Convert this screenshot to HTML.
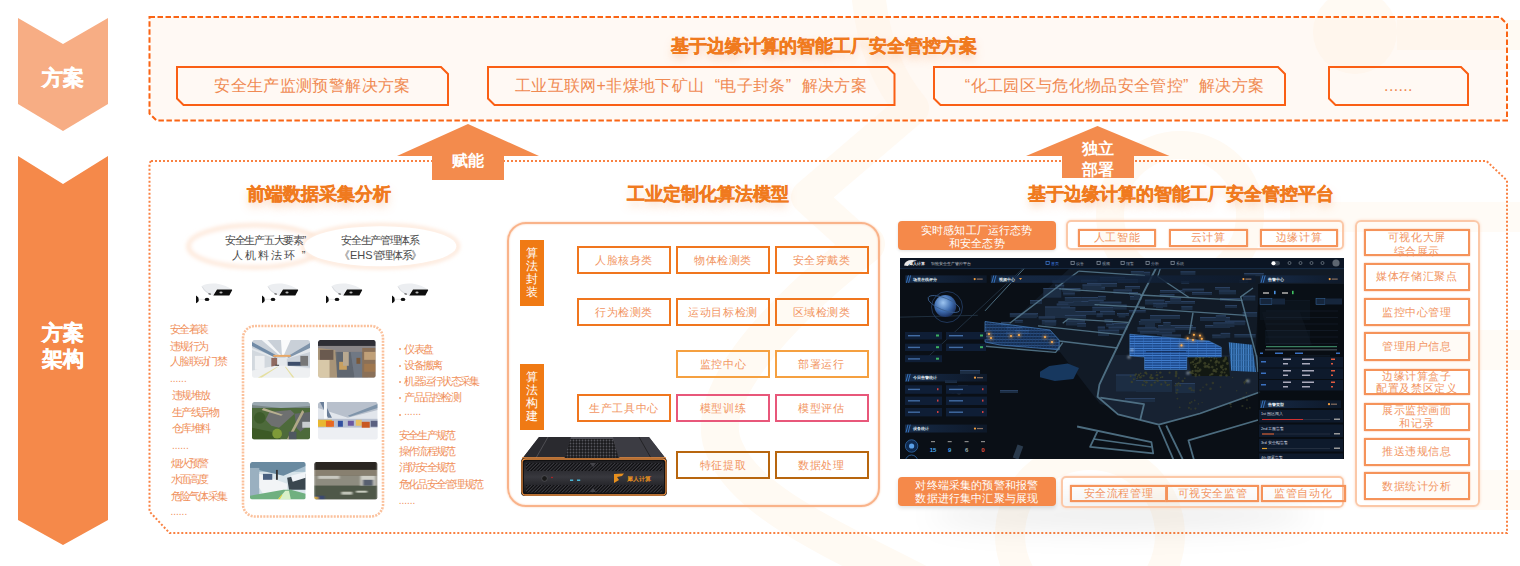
<!DOCTYPE html>
<html><head><meta charset="utf-8">
<style>
*{margin:0;padding:0;box-sizing:border-box}
html,body{width:1520px;height:566px;overflow:hidden;background:#fff;font-family:"Liberation Sans",sans-serif}
.a{position:absolute}
.c{display:flex;align-items:center;justify-content:center;text-align:center}
.t1{color:#F07A1E;font-weight:bold;font-size:18px;-webkit-text-stroke:0.4px #F07A1E;white-space:nowrap;text-shadow:0 5px 8px rgba(245,140,70,0.35)}
.sb{color:#F08A52;font-size:16px;white-space:nowrap;letter-spacing:0.35px}
.ob{border:2px solid #F0761E;color:#F29562;font-size:10.6px;letter-spacing:0.55px;padding-top:2px;white-space:nowrap}
.lst{color:#F0905A;font-size:11px;line-height:16.5px;letter-spacing:-1.7px;white-space:nowrap}
.dots{letter-spacing:0px;font-size:10px;margin-top:2px}
.vl{background:#F07A14;color:#fff;font-size:12px;line-height:13px;text-align:center;padding-top:7px}
.el{color:#4a4a4a;font-size:11px;line-height:14px;text-align:center;white-space:nowrap}
.wt{color:#fff;font-size:10.6px;line-height:13px;white-space:nowrap;letter-spacing:0.15px}
.gb{border:2px solid #F5935A;color:#F29562;font-size:10.6px;letter-spacing:0.6px;padding-top:1px;white-space:nowrap;box-shadow:0 0 1.5px #F8B088}
.rb{border:2px solid #F5935A;color:#F29562;font-size:10.6px;letter-spacing:0.6px;padding-top:1px;white-space:nowrap;box-shadow:0 0 1.5px #F8B088}
.rc{border:2px solid #F5935A;color:#F08A52;font-size:12px;line-height:13px;background:#fff}
</style></head><body>
<!-- background watermark -->
<svg class="a" style="left:0;top:0" width="1520" height="566">
<g fill="none" stroke="#FFFAF3" stroke-linejoin="round" stroke-linecap="round">
<path d="M868,-10 C872,40 888,80 912,108 L808,197 L862,246" stroke-width="34"/>
<path d="M866,244 C770,320 700,400 725,450 C750,510 860,550 950,600" stroke-width="38"/>
<circle cx="1180" cy="215" r="70" stroke-width="28"/>
<circle cx="1090" cy="535" r="80" stroke-width="30"/>
</g>
<circle cx="1355" cy="32" r="42" fill="#FFFAF3"/>
<rect x="1397" y="20" width="123" height="30" fill="#FFFAF3"/>
<rect x="1290" y="202" width="230" height="30" fill="#FFFBF6"/>
<rect x="1400" y="330" width="120" height="40" fill="#FFFBF6"/>
<rect x="1400" y="470" width="120" height="40" fill="#FFFBF6"/>
</svg>
<!-- left chevrons -->
<svg class="a" style="left:0;top:0" width="130" height="566">
<polygon points="18,18 63,44 108,18 108,104 63,131 18,104" fill="#F7AD84"/>
<polygon points="18,156 63,184 108,156 108,520 63,545 18,520" fill="#F5894A"/>
</svg>
<div class="a c" style="left:18px;top:65px;width:90px;height:26px;color:#fff;font-weight:bold;font-size:21px;-webkit-text-stroke:0.5px #fff">方案</div>
<div class="a c" style="left:18px;top:320px;width:90px;height:52px;color:#fff;font-weight:bold;font-size:21px;line-height:25.7px;-webkit-text-stroke:0.5px #fff">方案<br>架构</div>

<!-- top dashed box -->
<svg class="a" style="left:0;top:0" width="1520" height="140">
<path d="M149.5,17 L1500,17 L1507,24 L1507,120.5 L156.5,120.5 L149.5,113.5 Z" fill="#FFF1E4" fill-opacity="0.4" stroke="#FA6414" stroke-width="2" stroke-dasharray="5.5 2.5"/>
<path d="M177,67 L441,67 L448,74 L448,105 L183.5,105 L177,98.5 Z" fill="none" stroke="#FA5F14" stroke-width="2"/>
<path d="M488,67 L887.5,67 L894.5,74 L894.5,105 L494.5,105 L488,98.5 Z" fill="none" stroke="#FA5F14" stroke-width="2"/>
<path d="M934,67 L1278,67 L1285,74 L1285,105 L940.5,105 L934,98.5 Z" fill="none" stroke="#FA5F14" stroke-width="2"/>
<path d="M1329,67 L1461,67 L1468,74 L1468,105 L1335.5,105 L1329,98.5 Z" fill="none" stroke="#FA5F14" stroke-width="2"/>
</svg>
<div class="a c t1" style="left:570px;top:34px;width:507px;height:24px">基于边缘计算的智能工厂安全管控方案</div>
<div class="a c sb" style="left:177px;top:67px;width:271px;height:38px">安全生产监测预警解决方案</div>
<div class="a c sb" style="left:488px;top:67px;width:406px;height:38px">工业互联网+非煤地下矿山<span style="display:inline-block;width:16px;text-align:right">“</span>电子封条<span style="display:inline-block;width:16px;text-align:left">”</span>解决方案</div>
<div class="a c sb" style="left:934px;top:67px;width:351px;height:38px"><span style="display:inline-block;width:16px;text-align:right">“</span>化工园区与危化物品安全管控<span style="display:inline-block;width:16px;text-align:left">”</span>解决方案</div>
<div class="a c sb" style="left:1329px;top:67px;width:139px;height:38px">......</div>

<!-- second dotted box -->
<svg class="a" style="left:0;top:0" width="1520" height="566">
<path d="M151,161 L1486.5,161 L1507,180.5 L1507,533 L169.5,533 L149.5,511.5 L149.5,163 Z" fill="none" stroke="#F98142" stroke-width="2" stroke-dasharray="2 2"/>
<!-- arrows -->
<polygon points="468,124 539,156 504,156 504,180 432,180 432,156 397,156" fill="#F38B4D"/>
<polygon points="1097.5,126 1169.5,156 1134,156 1134,178 1062,178 1062,156 1026,156" fill="#F38B4D"/>
</svg>
<div class="a c" style="left:432px;top:150px;width:72px;height:22px;color:#fff;font-weight:bold;font-size:16px">赋能</div>
<div class="a c" style="left:1062px;top:138px;width:72px;height:42px;color:#fff;font-weight:bold;font-size:16px;line-height:21px">独立<br>部署</div>

<!-- section titles -->
<div class="a c t1" style="left:219px;top:182px;width:200px;height:24px">前端数据采集分析</div>
<div class="a c t1" style="left:608px;top:182px;width:200px;height:24px">工业定制化算法模型</div>
<div class="a c t1" style="left:980px;top:182px;width:401px;height:24px">基于边缘计算的智能工厂安全管控平台</div>



<!-- ===== left section ===== -->
<svg class="a" style="left:0;top:0" width="520" height="566">
<defs>
<filter id="blur2" x="-20%" y="-50%" width="140%" height="200%"><feGaussianBlur stdDeviation="2"/></filter>
</defs>
<ellipse cx="255" cy="246.2" rx="66.5" ry="21" fill="#fff" stroke="#FDE2CF" stroke-width="3.5" filter="url(#blur2)"/>
<ellipse cx="380.3" cy="246.2" rx="77.5" ry="21" fill="#fff" stroke="#FDE2CF" stroke-width="3.5" filter="url(#blur2)"/>
<ellipse cx="380.3" cy="246.2" rx="76" ry="20" fill="#fff"/>
<rect x="243" y="326" width="140" height="190.5" rx="12" fill="none" stroke="#FBC19C" stroke-width="2.6" stroke-dasharray="2 1.2"/>
</svg>
<div class="a el" style="left:200px;top:233px;width:130px;letter-spacing:-1.3px">安全生产五大要素”</div>
<div class="a el" style="left:200px;top:248px;width:130px;letter-spacing:2px;padding-left:9px">人机料法环 ”</div>
<div class="a el" style="left:315px;top:233px;width:130px;letter-spacing:-1.3px">安全生产管理体系</div>
<div class="a el" style="left:315px;top:248px;width:130px;letter-spacing:-1.3px"><span style="letter-spacing:0">《EHS</span>管理体系》</div>
<svg class="a" style="left:192px;top:278px" width="46" height="28" viewBox="0 0 46 28">
<path d="M10,8 Q13,5 24,5.5 Q34,7 40,11.5 L24,11.5 L21,17.5 Q15,16 11,11 Z" fill="#ECEEF1"/>
<path d="M10,8.5 Q12,13 17,15.5" stroke="#DADCE0" stroke-width="1" fill="none"/>
<path d="M25,11.5 L39.8,11.5 Q40.5,11.8 40,12.6 L37.3,17.6 L21.3,17.6 Z" fill="#0E0E0E"/>
<ellipse cx="29" cy="14.5" rx="1.6" ry="1" fill="#bbb"/>
<path d="M16.5,15.2 L19,15.8 L18.5,16.8 L16.5,16.2Z" fill="#333"/>
<path d="M4,17.5 Q7,19 6.8,21.5 Q7,24 4,25.2 Z" fill="#0E0E0E"/>
<line x1="6.8" y1="21.3" x2="12.5" y2="21.3" stroke="#e3e3e3" stroke-width="0.9"/>
<ellipse cx="15" cy="21.4" rx="2.3" ry="1.6" fill="#0E0E0E"/>
</svg>
<svg class="a" style="left:258px;top:278px" width="46" height="28" viewBox="0 0 46 28">
<path d="M10,8 Q13,5 24,5.5 Q34,7 40,11.5 L24,11.5 L21,17.5 Q15,16 11,11 Z" fill="#ECEEF1"/>
<path d="M10,8.5 Q12,13 17,15.5" stroke="#DADCE0" stroke-width="1" fill="none"/>
<path d="M25,11.5 L39.8,11.5 Q40.5,11.8 40,12.6 L37.3,17.6 L21.3,17.6 Z" fill="#0E0E0E"/>
<ellipse cx="29" cy="14.5" rx="1.6" ry="1" fill="#bbb"/>
<path d="M16.5,15.2 L19,15.8 L18.5,16.8 L16.5,16.2Z" fill="#333"/>
<path d="M4,17.5 Q7,19 6.8,21.5 Q7,24 4,25.2 Z" fill="#0E0E0E"/>
<line x1="6.8" y1="21.3" x2="12.5" y2="21.3" stroke="#e3e3e3" stroke-width="0.9"/>
<ellipse cx="15" cy="21.4" rx="2.3" ry="1.6" fill="#0E0E0E"/>
</svg>
<svg class="a" style="left:322px;top:278px" width="46" height="28" viewBox="0 0 46 28">
<path d="M10,8 Q13,5 24,5.5 Q34,7 40,11.5 L24,11.5 L21,17.5 Q15,16 11,11 Z" fill="#ECEEF1"/>
<path d="M10,8.5 Q12,13 17,15.5" stroke="#DADCE0" stroke-width="1" fill="none"/>
<path d="M25,11.5 L39.8,11.5 Q40.5,11.8 40,12.6 L37.3,17.6 L21.3,17.6 Z" fill="#0E0E0E"/>
<ellipse cx="29" cy="14.5" rx="1.6" ry="1" fill="#bbb"/>
<path d="M16.5,15.2 L19,15.8 L18.5,16.8 L16.5,16.2Z" fill="#333"/>
<path d="M4,17.5 Q7,19 6.8,21.5 Q7,24 4,25.2 Z" fill="#0E0E0E"/>
<line x1="6.8" y1="21.3" x2="12.5" y2="21.3" stroke="#e3e3e3" stroke-width="0.9"/>
<ellipse cx="15" cy="21.4" rx="2.3" ry="1.6" fill="#0E0E0E"/>
</svg>
<svg class="a" style="left:388px;top:278px" width="46" height="28" viewBox="0 0 46 28">
<path d="M10,8 Q13,5 24,5.5 Q34,7 40,11.5 L24,11.5 L21,17.5 Q15,16 11,11 Z" fill="#ECEEF1"/>
<path d="M10,8.5 Q12,13 17,15.5" stroke="#DADCE0" stroke-width="1" fill="none"/>
<path d="M25,11.5 L39.8,11.5 Q40.5,11.8 40,12.6 L37.3,17.6 L21.3,17.6 Z" fill="#0E0E0E"/>
<ellipse cx="29" cy="14.5" rx="1.6" ry="1" fill="#bbb"/>
<path d="M16.5,15.2 L19,15.8 L18.5,16.8 L16.5,16.2Z" fill="#333"/>
<path d="M4,17.5 Q7,19 6.8,21.5 Q7,24 4,25.2 Z" fill="#0E0E0E"/>
<line x1="6.8" y1="21.3" x2="12.5" y2="21.3" stroke="#e3e3e3" stroke-width="0.9"/>
<ellipse cx="15" cy="21.4" rx="2.3" ry="1.6" fill="#0E0E0E"/>
</svg>
<!--PHOTOS--><svg class="a" style="left:252px;top:340px;border-radius:2px" width="58" height="37.7" viewBox="0 0 60 38" preserveAspectRatio="none"><defs><clipPath id="c0"><rect width="60" height="38" rx="2"/></clipPath><filter id="pb0"><feGaussianBlur stdDeviation="0.8"/></filter></defs><g clip-path="url(#c0)"><g filter="url(#pb0)"><rect width="60" height="38" fill="#E4E8EC"/>
<polygon points="0,0 60,0 60,6 34,18 26,18 0,8" fill="#C9D0D8"/>
<polygon points="0,2 26,16 24,18 0,6" fill="#6F8AA6"/>
<polygon points="60,3 36,17 38,18 60,8" fill="#7F94AA"/>
<polygon points="10,0 28,15 30,15 16,0" fill="#F4F6F8"/>
<polygon points="30,0 31,15 33,15 40,0" fill="#FAFBFC"/>
<rect x="22" y="15" width="18" height="2" fill="#E8A868"/>
<polygon points="0,10 24,19 24,26 0,31" fill="#D2D8DE"/>
<rect x="3" y="16" width="10" height="14" fill="#EEF0F2"/>
<rect x="20" y="18" width="6" height="10" fill="#8F6A60"/>
<rect x="24" y="25" width="4" height="4" fill="#333"/>
<polygon points="60,12 36,19 36,26 60,28" fill="#CBD2DA"/>
<rect x="37" y="22" width="14" height="4" fill="#3C4E6A"/>
<rect x="50" y="16" width="8" height="10" fill="#777"/>
<polygon points="0,31 24,26 36,26 60,29 60,38 0,38" fill="#EEF0F2"/>
<polygon points="6,38 26,27 27,27 10,38" fill="#E5DFA0"/>
<polygon points="34,27 35,27 44,38 42,38" fill="#E5DFA0"/></g></g></svg>
<svg class="a" style="left:318.1px;top:340px;border-radius:2px" width="57.7" height="37.7" viewBox="0 0 60 38" preserveAspectRatio="none"><defs><clipPath id="c1"><rect width="60" height="38" rx="2"/></clipPath><filter id="pb1"><feGaussianBlur stdDeviation="0.8"/></filter></defs><g clip-path="url(#c1)"><g filter="url(#pb1)"><rect width="60" height="38" fill="#6A6C70"/>
<rect width="60" height="6" fill="#2E2E34"/>
<rect y="6" width="60" height="6" fill="#8A8688"/>
<polygon points="0,8 18,10 20,38 0,38" fill="#A89478"/>
<rect x="0" y="20" width="12" height="18" fill="#D8C8A8"/>
<rect x="2" y="10" width="14" height="10" fill="#6A5A50"/>
<polygon points="20,12 34,12 38,38 20,38" fill="#5F6670"/>
<rect x="22" y="22" width="8" height="8" fill="#C8A060"/>
<rect x="26" y="12" width="6" height="14" fill="#B8A890"/>
<polygon points="34,12 46,12 52,38 38,38" fill="#707884"/>
<rect x="46" y="8" width="14" height="30" fill="#8A7058"/>
<rect x="48" y="12" width="12" height="8" fill="#C0A078"/>
<rect x="48" y="24" width="12" height="8" fill="#A07850"/>
<rect x="40" y="18" width="4" height="6" fill="#7A5838"/></g></g></svg>
<svg class="a" style="left:252px;top:402px;border-radius:2px" width="58" height="37.6" viewBox="0 0 60 38" preserveAspectRatio="none"><defs><clipPath id="c2"><rect width="60" height="38" rx="2"/></clipPath><filter id="pb2"><feGaussianBlur stdDeviation="0.8"/></filter></defs><g clip-path="url(#c2)"><g filter="url(#pb2)"><rect width="60" height="38" fill="#4E6A3A"/>
<rect width="60" height="6" fill="#7A8888"/>
<polygon points="0,0 60,0 60,4 30,6 0,3" fill="#9AA8B0"/>
<polygon points="18,10 40,8 44,12 28,26 20,24 14,18" fill="#6E7070"/>
<polygon points="44,12 60,10 60,22 50,30 46,26" fill="#62666A"/>
<polygon points="10,8 30,14 32,13 12,6" fill="#B8B090"/>
<polygon points="52,8 36,38 39,38 54,10" fill="#B0A888"/>
<polygon points="0,26 20,30 30,38 0,38" fill="#3C5A28"/>
<circle cx="8" cy="16" r="6" fill="#3E5C2C"/>
<circle cx="26" cy="32" r="5" fill="#7E9A38"/>
<rect x="38" y="30" width="8" height="8" fill="#505860"/>
<rect x="52" y="20" width="8" height="6" fill="#C8CCD0"/></g></g></svg>
<svg class="a" style="left:318.1px;top:402px;border-radius:2px" width="59.7" height="37.6" viewBox="0 0 60 38" preserveAspectRatio="none"><defs><clipPath id="c3"><rect width="60" height="38" rx="2"/></clipPath><filter id="pb3"><feGaussianBlur stdDeviation="0.8"/></filter></defs><g clip-path="url(#c3)"><g filter="url(#pb3)"><rect width="60" height="38" fill="#E2E6EC"/>
<polygon points="0,0 60,0 60,8 30,16 0,6" fill="#B8C0CC"/>
<polygon points="2,0 6,0 14,16 10,16" fill="#6A7E98"/>
<polygon points="60,2 30,14 32,15 60,6" fill="#7F94AA"/>
<rect x="6" y="0" width="3" height="30" fill="#F8FAFC"/>
<rect x="0" y="17" width="60" height="9" fill="#B8C0D0"/>
<rect x="0" y="18" width="14" height="7" fill="#E8B830"/>
<rect x="8" y="19" width="8" height="6" fill="#E86820"/>
<rect x="20" y="19" width="5" height="6" fill="#3050A0"/>
<rect x="30" y="19" width="6" height="5" fill="#6A58A0"/>
<rect x="38" y="18" width="6" height="6" fill="#E8C060"/>
<rect x="44" y="20" width="8" height="7" fill="#C85820"/>
<rect x="53" y="19" width="7" height="6" fill="#5A6080"/>
<polygon points="0,26 60,26 60,38 0,38" fill="#EDEFF3"/></g></g></svg>
<svg class="a" style="left:250px;top:462px;border-radius:2px" width="55.7" height="37.6" viewBox="0 0 60 38" preserveAspectRatio="none"><defs><clipPath id="c4"><rect width="60" height="38" rx="2"/></clipPath><filter id="pb4"><feGaussianBlur stdDeviation="0.8"/></filter></defs><g clip-path="url(#c4)"><g filter="url(#pb4)"><rect width="60" height="38" fill="#D8E4EA"/>
<rect width="60" height="10" fill="#A8C0D0"/>
<polygon points="0,0 60,0 60,4 36,14 0,6" fill="#6A8AA0"/>
<rect x="0" y="6" width="10" height="30" fill="#9AB0C0"/>
<polygon points="10,12 40,22 40,30 14,32 10,26" fill="#F2F4F6"/>
<rect x="14" y="12" width="10" height="6" fill="#4A6080"/>
<rect x="28" y="8" width="2" height="10" fill="#333"/>
<polygon points="40,16 60,12 60,28 42,28" fill="#3A4650"/>
<polygon points="44,14 60,10 60,16 46,20" fill="#F0F4F8"/>
<polygon points="0,34 36,28 44,28 60,32 60,38 0,38" fill="#70B080"/>
<polygon points="30,38 38,29 42,29 44,38" fill="#D8F0C8"/>
<polygon points="30,38 34,33 35,33 32,38" fill="#E0D040"/></g></g></svg>
<svg class="a" style="left:314.2px;top:462px;border-radius:2px" width="63.5" height="37.6" viewBox="0 0 60 38" preserveAspectRatio="none"><defs><clipPath id="c5"><rect width="60" height="38" rx="2"/></clipPath><filter id="pb5"><feGaussianBlur stdDeviation="0.8"/></filter></defs><g clip-path="url(#c5)"><g filter="url(#pb5)"><rect width="60" height="38" fill="#5E5C4E"/>
<rect width="60" height="8" fill="#2A2820"/>
<rect y="8" width="60" height="6" fill="#888070"/>
<rect y="14" width="60" height="10" fill="#8E8C80"/>
<rect x="4" y="14" width="20" height="3" fill="#C8C8C0"/>
<rect x="44" y="14" width="14" height="12" fill="#D0D0C8"/>
<rect x="46" y="18" width="10" height="6" fill="#586070"/>
<rect y="24" width="60" height="14" fill="#505848"/>
<rect x="26" y="30" width="10" height="3" fill="#C0C4B8"/>
<rect x="40" y="29" width="10" height="2" fill="#C8CCC0"/>
<rect x="0" y="34" width="10" height="4" fill="#3A4A70"/>
<rect x="0" y="35" width="4" height="3" fill="#C8A040"/></g></g></svg><!--/PHOTOS-->

<div class="a lst" style="left:170px;top:321.1px">安全着装</div>
<div class="a lst" style="left:170px;top:337.8px">违规行为</div>
<div class="a lst" style="left:170px;top:353.2px">人脸联动门禁</div>
<div class="a lst dots" style="left:170px;top:368.8px">......</div>
<div class="a lst" style="left:172px;top:387.1px">违规堆放</div>
<div class="a lst" style="left:172px;top:403.8px">生产线异物</div>
<div class="a lst" style="left:172px;top:420.4px">仓库堆料</div>
<div class="a lst dots" style="left:172px;top:435.8px">......</div>
<div class="a lst" style="left:170.5px;top:454.8px">烟火预警</div>
<div class="a lst" style="left:170.5px;top:471.2px">水面高度</div>
<div class="a lst" style="left:170.5px;top:487.6px">危险气体采集</div>
<div class="a lst dots" style="left:170.5px;top:501.8px">......</div>
<div class="a lst" style="left:404.3px;top:340.6px">仪表盘</div>
<div class="a lst" style="left:404.3px;top:357.4px">设备搬离</div>
<div class="a lst" style="left:404.3px;top:373.2px">机器运行状态采集</div>
<div class="a lst" style="left:404.3px;top:389.2px">产品品控检测</div>
<div class="a lst dots" style="left:404.3px;top:402.4px">......</div>
<div class="a lst" style="left:398.7px;top:426.6px">安全生产规范</div>
<div class="a lst" style="left:398.7px;top:443.1px">操作流程规范</div>
<div class="a lst" style="left:398.7px;top:459.2px">消防安全规范</div>
<div class="a lst" style="left:398.7px;top:475.6px">危化品安全管理规范</div>
<div class="a lst dots" style="left:398.7px;top:490.8px">......</div>
<div class="a" style="left:399.2px;top:347.8px;width:2.2px;height:2.2px;border-radius:1px;background:#F29A68"></div>
<div class="a" style="left:399.2px;top:364.7px;width:2.2px;height:2.2px;border-radius:1px;background:#F29A68"></div>
<div class="a" style="left:399.2px;top:380.5px;width:2.2px;height:2.2px;border-radius:1px;background:#F29A68"></div>
<div class="a" style="left:399.2px;top:396.5px;width:2.2px;height:2.2px;border-radius:1px;background:#F29A68"></div>
<div class="a" style="left:399.2px;top:413.6px;width:2.2px;height:2.2px;border-radius:1px;background:#F29A68"></div>
<!-- ===== middle section ===== -->
<div class="a" style="left:507px;top:222px;width:372.5px;height:285px;border:2.4px solid #F9B38A;border-radius:19px;box-shadow:0 0 2px #FBC9AA, inset 0 0 2px #FBC9AA"></div>
<div class="a vl" style="left:520px;top:240px;width:24px;height:66px">算<br>法<br>封<br>装</div>
<div class="a vl" style="left:520px;top:364px;width:24px;height:66px">算<br>法<br>构<br>建</div>
<div class="a c ob" style="left:577px;top:246px;width:94px;height:28px">人脸核身类</div>
<div class="a c ob" style="left:676px;top:246px;width:94px;height:28px">物体检测类</div>
<div class="a c ob" style="left:774.5px;top:246px;width:94px;height:28px">安全穿戴类</div>
<div class="a c ob" style="left:577px;top:297.5px;width:94px;height:28px">行为检测类</div>
<div class="a c ob" style="left:676px;top:297.5px;width:94px;height:28px">运动目标检测</div>
<div class="a c ob" style="left:774.5px;top:297.5px;width:94px;height:28px">区域检测类</div>
<div class="a c ob" style="left:676px;top:350px;width:94px;height:28px;border-color:#F5A040">监控中心</div>
<div class="a c ob" style="left:774.5px;top:350px;width:94px;height:28px;border-color:#F5A040">部署运行</div>
<div class="a c ob" style="left:577px;top:394px;width:94px;height:28px">生产工具中心</div>
<div class="a c ob" style="left:676px;top:394px;width:94px;height:28px;border-color:#E8577A">模型训练</div>
<div class="a c ob" style="left:774.5px;top:394px;width:94px;height:28px;border-color:#E8577A">模型评估</div>
<div class="a c ob" style="left:676px;top:450.5px;width:94px;height:28px;border-color:#B8660E">特征提取</div>
<div class="a c ob" style="left:774.5px;top:450.5px;width:94px;height:28px;border-color:#B8660E">数据处理</div>


<!-- device -->
<svg class="a" style="left:515px;top:430px" width="160" height="72" viewBox="0 0 160 72">
<defs>
<linearGradient id="dtop" x1="0" y1="0" x2="0" y2="1"><stop offset="0" stop-color="#55555c"/><stop offset="1" stop-color="#222226"/></linearGradient>
<linearGradient id="dfr" x1="0" y1="0" x2="0" y2="1"><stop offset="0" stop-color="#1e1e22"/><stop offset="0.5" stop-color="#38383e"/><stop offset="1" stop-color="#151518"/></linearGradient>
<pattern id="grl" width="2.4" height="2.4" patternUnits="userSpaceOnUse" patternTransform="rotate(45)"><rect width="2.4" height="2.4" fill="#0c0c0e"/><rect width="1.1" height="2.4" fill="#3c3c42"/></pattern>
<pattern id="grt" width="3" height="3" patternUnits="userSpaceOnUse"><rect width="3" height="3" fill="#1a1a1d"/><circle cx="1.5" cy="1.5" r="0.9" fill="#55555c"/></pattern>
</defs>
<polygon points="24,7 134,7 151,29 7,29" fill="url(#dtop)"/>
<polygon points="55,9 98,9 104,29 49,29" fill="url(#grt)"/>
<polygon points="24,7 56,7 49,29 7,29" fill="#2a2a2f"/>
<polygon points="98,7 134,7 151,29 104,29" fill="#3c3c43"/>
<line x1="33" y1="7" x2="21" y2="28" stroke="#66666c" stroke-width="0.6"/>
<line x1="124" y1="7" x2="136" y2="28" stroke="#18181a" stroke-width="0.7"/>
<path d="M7,28 L49,28 L50,30 L104,30 L105,28 L151,28" stroke="#EE9040" stroke-width="1.6" fill="none"/>
<rect x="6" y="28" width="146" height="38" rx="4" fill="#111113"/>
<rect x="7" y="29" width="144" height="36" rx="3.5" fill="none" stroke="#EE9040" stroke-width="1.3"/>
<rect x="9" y="31" width="140" height="32" rx="2.5" fill="url(#dfr)"/>
<rect x="11" y="33" width="136" height="8" fill="url(#grl)"/>
<rect x="11" y="55" width="136" height="7.5" fill="url(#grl)"/>
<polygon points="75,33 81,33 78,37" fill="#44444a"/>
<polygon points="75,62 81,62 78,58" fill="#44444a"/>
<circle cx="29.5" cy="48.5" r="2.8" fill="#1a1a1a" stroke="#5a5a60" stroke-width="0.6"/>
<circle cx="37" cy="47.5" r="0.8" fill="#d02020"/>
<rect x="55" y="49.5" width="3.2" height="1.5" fill="#4AB8D8"/><rect x="62" y="49.5" width="3.2" height="1.5" fill="#4AB8D8"/>
<path d="M99,44 L109,43.5 L107,46 L102,47 L104,50 L99,53 Z" fill="#E8901E"/>
<text x="112" y="51" font-size="6" font-family="Liberation Sans" font-weight="bold" fill="#E8901E">犀人计算</text>
</svg>
<!-- ===== right section ===== -->
<!--DASH--><svg class="a" style="left:900px;top:258px" width="444" height="201" viewBox="900 258 444 201">
<defs>
<radialGradient id="glb" cx="40%" cy="35%" r="65%"><stop offset="0" stop-color="#9CC4F0"/><stop offset="0.6" stop-color="#3F6DB0"/><stop offset="1" stop-color="#1D3566"/></radialGradient>
<linearGradient id="ph" x1="0" x2="1"><stop offset="0" stop-color="#182E4E"/><stop offset="1" stop-color="#0E1A2C"/></linearGradient>
<pattern id="bgrid" width="3" height="3" patternUnits="userSpaceOnUse" patternTransform="skewX(-10)"><rect width="3" height="3" fill="#1A3E74"/><rect width="3" height="0.8" fill="#4282D8"/><rect width="0.6" height="3" fill="#2C62B0"/></pattern>
<pattern id="bgrid2" width="9" height="2.4" patternUnits="userSpaceOnUse"><rect width="9" height="2.4" fill="#1D4A8C"/><rect width="9" height="0.7" fill="#4C8EE4"/><rect width="0.4" height="2.4" fill="#3A76C8"/></pattern>
<pattern id="bgrid3" width="2.4" height="6" patternUnits="userSpaceOnUse"><rect width="2.4" height="6" fill="#24578F"/><rect width="0.7" height="6" fill="#4E90D8"/><rect width="2.4" height="0.4" fill="#3A70B0"/></pattern>
<filter id="glow" x="-50%" y="-50%" width="200%" height="200%"><feGaussianBlur stdDeviation="1"/></filter>
</defs>
<rect x="900" y="258" width="444" height="201" fill="#0A0F16"/>
<polygon points="1070,268 1344,268 1344,300 1258,300 1255,372 1200,400 1160,420 1100,404 1060,352 985,346 985,322 1010,323" fill="#111A26"/>
<polygon points="1114,355 1099.4,384.7 1097.5,396.8 1118,414.4 1158.8,424.6 1200,413.5 1258,392 1258,355" fill="#172232"/>
<rect x="1043.3" y="288" width="18" height="9.7" fill="#1C2D43"/><rect x="1043.3" y="288" width="18" height="1" fill="#2A4060"/>
<rect x="1045" y="306.5" width="25" height="11.5" fill="#1C2D43"/><rect x="1045" y="306.5" width="25" height="1" fill="#2A4060"/>
<rect x="1068" y="297" width="30" height="9" fill="#1C2D43"/><rect x="1068" y="297" width="30" height="1" fill="#2A4060"/>
<rect x="1073" y="301" width="28" height="4" fill="#1C2D43"/><rect x="1073" y="301" width="28" height="1" fill="#2A4060"/>
<rect x="1070" y="311" width="26" height="4" fill="#1C2D43"/><rect x="1070" y="311" width="26" height="1" fill="#2A4060"/>
<rect x="1066" y="320.5" width="19" height="5" fill="#1C2D43"/><rect x="1066" y="320.5" width="19" height="1" fill="#2A4060"/>
<rect x="1087" y="283" width="30" height="4" fill="#1C2D43"/><rect x="1087" y="283" width="30" height="1" fill="#2A4060"/>
<rect x="1100" y="277" width="25" height="4" fill="#1C2D43"/><rect x="1100" y="277" width="25" height="1" fill="#2A4060"/>
<rect x="1118" y="279" width="20" height="4" fill="#1C2D43"/><rect x="1118" y="279" width="20" height="1" fill="#2A4060"/>
<rect x="1125" y="286" width="15" height="3" fill="#1C2D43"/><rect x="1125" y="286" width="15" height="1" fill="#2A4060"/>
<rect x="1130" y="296" width="12" height="4" fill="#1C2D43"/><rect x="1130" y="296" width="12" height="1" fill="#2A4060"/>
<rect x="1098" y="330" width="11" height="6" fill="#1C2D43"/><rect x="1098" y="330" width="11" height="1" fill="#2A4060"/>
<rect x="1112" y="323" width="15" height="6" fill="#1C2D43"/><rect x="1112" y="323" width="15" height="1" fill="#2A4060"/>
<rect x="1100" y="311" width="15" height="4" fill="#1C2D43"/><rect x="1100" y="311" width="15" height="1" fill="#2A4060"/>
<rect x="1117" y="313" width="12" height="3" fill="#1C2D43"/><rect x="1117" y="313" width="12" height="1" fill="#2A4060"/>
<rect x="1020" y="313" width="18" height="4" fill="#1C2D43"/><rect x="1020" y="313" width="18" height="1" fill="#2A4060"/>
<rect x="1030" y="300" width="12" height="4" fill="#1C2D43"/><rect x="1030" y="300" width="12" height="1" fill="#2A4060"/>
<rect x="1015" y="330" width="14" height="4" fill="#1C2D43"/><rect x="1015" y="330" width="14" height="1" fill="#2A4060"/>
<rect x="1160" y="290" width="25" height="3" fill="#1C2D43"/><rect x="1160" y="290" width="25" height="1" fill="#2A4060"/>
<rect x="1165" y="301" width="30" height="3" fill="#1C2D43"/><rect x="1165" y="301" width="30" height="1" fill="#2A4060"/>
<rect x="1192" y="292" width="20" height="3" fill="#1C2D43"/><rect x="1192" y="292" width="20" height="1" fill="#2A4060"/>
<rect x="1215" y="287" width="15" height="3" fill="#1C2D43"/><rect x="1215" y="287" width="15" height="1" fill="#2A4060"/>
<rect x="1220" y="298" width="20" height="3" fill="#1C2D43"/><rect x="1220" y="298" width="20" height="1" fill="#2A4060"/>
<rect x="1150" y="315" width="30" height="4" fill="#1C2D43"/><rect x="1150" y="315" width="30" height="1" fill="#2A4060"/>
<rect x="1200" y="317" width="30" height="4" fill="#1C2D43"/><rect x="1200" y="317" width="30" height="1" fill="#2A4060"/>
<rect x="1158" y="325" width="35" height="3" fill="#1C2D43"/><rect x="1158" y="325" width="35" height="1" fill="#2A4060"/>
<rect x="1145" y="320" width="10" height="10" fill="#1C2D43"/><rect x="1145" y="320" width="10" height="1" fill="#2A4060"/>
<rect x="1205" y="325" width="25" height="3" fill="#1C2D43"/><rect x="1205" y="325" width="25" height="1" fill="#2A4060"/>
<rect x="1225" y="305" width="12" height="3" fill="#1C2D43"/><rect x="1225" y="305" width="12" height="1" fill="#2A4060"/>
<rect x="1116" y="374.5" width="20" height="17" fill="#1C2D43"/><rect x="1116" y="374.5" width="20" height="1" fill="#2A4060"/>
<rect x="1136" y="380" width="36" height="12" fill="#1C2D43"/><rect x="1136" y="380" width="36" height="1" fill="#2A4060"/>
<rect x="1175" y="383" width="20" height="10" fill="#1C2D43"/><rect x="1175" y="383" width="20" height="1" fill="#2A4060"/>
<rect x="1125" y="398" width="30" height="4" fill="#1C2D43"/><rect x="1125" y="398" width="30" height="1" fill="#2A4060"/>
<rect x="1260" y="300" width="50" height="20" fill="#1C2D43"/><rect x="1260" y="300" width="50" height="1" fill="#2A4060"/>
<rect x="1265" y="330" width="45" height="15" fill="#1C2D43"/><rect x="1265" y="330" width="45" height="1" fill="#2A4060"/>
<rect x="1290" y="355" width="40" height="20" fill="#1C2D43"/><rect x="1290" y="355" width="40" height="1" fill="#2A4060"/>
<rect x="960" y="370" width="20" height="4" fill="#1C2D43"/><rect x="960" y="370" width="20" height="1" fill="#2A4060"/>
<rect x="945" y="380" width="12" height="3" fill="#1C2D43"/><rect x="945" y="380" width="12" height="1" fill="#2A4060"/>
<rect x="1000" y="390" width="18" height="3" fill="#1C2D43"/><rect x="1000" y="390" width="18" height="1" fill="#2A4060"/>
<rect x="950" y="400" width="8" height="2" fill="#1C2D43"/><rect x="950" y="400" width="8" height="1" fill="#2A4060"/>
<rect x="1081.0" y="279.8" width="16.4" height="2.7" fill="#1C2D43"/><rect x="1081.0" y="279.8" width="16.4" height="1" fill="#2A4060"/>
<rect x="1134.0" y="293.8" width="6.9" height="3.8" fill="#1C2D43"/><rect x="1134.0" y="293.8" width="6.9" height="1" fill="#2A4060"/>
<rect x="1106.1" y="323.7" width="8.0" height="3.1" fill="#1C2D43"/><rect x="1106.1" y="323.7" width="8.0" height="1" fill="#2A4060"/>
<rect x="1156.9" y="331.6" width="15.2" height="3.5" fill="#1C2D43"/><rect x="1156.9" y="331.6" width="15.2" height="1" fill="#2A4060"/>
<rect x="1244.1" y="273.0" width="19.7" height="3.2" fill="#1C2D43"/><rect x="1244.1" y="273.0" width="19.7" height="1" fill="#2A4060"/>
<rect x="1077.1" y="323.0" width="8.9" height="4.0" fill="#1C2D43"/><rect x="1077.1" y="323.0" width="8.9" height="1" fill="#2A4060"/>
<rect x="1159.7" y="294.2" width="14.8" height="2.7" fill="#1C2D43"/><rect x="1159.7" y="294.2" width="14.8" height="1" fill="#2A4060"/>
<rect x="1170.1" y="297.8" width="11.0" height="4.0" fill="#1C2D43"/><rect x="1170.1" y="297.8" width="11.0" height="1" fill="#2A4060"/>
<rect x="1113.3" y="289.5" width="18.7" height="4.2" fill="#1C2D43"/><rect x="1113.3" y="289.5" width="18.7" height="1" fill="#2A4060"/>
<rect x="1061.0" y="307.3" width="14.4" height="4.7" fill="#1C2D43"/><rect x="1061.0" y="307.3" width="14.4" height="1" fill="#2A4060"/>
<rect x="1182.4" y="288.7" width="21.7" height="2.8" fill="#1C2D43"/><rect x="1182.4" y="288.7" width="21.7" height="1" fill="#2A4060"/>
<rect x="1104.5" y="319.2" width="8.4" height="3.7" fill="#1C2D43"/><rect x="1104.5" y="319.2" width="8.4" height="1" fill="#2A4060"/>
<rect x="1009.8" y="313.4" width="18.2" height="3.9" fill="#1C2D43"/><rect x="1009.8" y="313.4" width="18.2" height="1" fill="#2A4060"/>
<rect x="1218.9" y="290.4" width="17.1" height="4.0" fill="#1C2D43"/><rect x="1218.9" y="290.4" width="17.1" height="1" fill="#2A4060"/>
<rect x="1145.0" y="299.7" width="19.4" height="4.9" fill="#1C2D43"/><rect x="1145.0" y="299.7" width="19.4" height="1" fill="#2A4060"/>
<rect x="1118.5" y="313.2" width="7.0" height="4.3" fill="#1C2D43"/><rect x="1118.5" y="313.2" width="7.0" height="1" fill="#2A4060"/>
<rect x="1161.8" y="334.6" width="19.2" height="3.2" fill="#1C2D43"/><rect x="1161.8" y="334.6" width="19.2" height="1" fill="#2A4060"/>
<rect x="1096.4" y="313.5" width="6.4" height="3.7" fill="#1C2D43"/><rect x="1096.4" y="313.5" width="6.4" height="1" fill="#2A4060"/>
<rect x="1014.7" y="319.9" width="8.1" height="3.1" fill="#1C2D43"/><rect x="1014.7" y="319.9" width="8.1" height="1" fill="#2A4060"/>
<rect x="1097.7" y="326.6" width="7.3" height="3.6" fill="#1C2D43"/><rect x="1097.7" y="326.6" width="7.3" height="1" fill="#2A4060"/>
<rect x="1137.4" y="327.4" width="19.1" height="4.7" fill="#1C2D43"/><rect x="1137.4" y="327.4" width="19.1" height="1" fill="#2A4060"/>
<rect x="1069.6" y="297.0" width="11.7" height="4.7" fill="#1C2D43"/><rect x="1069.6" y="297.0" width="11.7" height="1" fill="#2A4060"/>
<rect x="1239.4" y="279.8" width="8.8" height="3.1" fill="#1C2D43"/><rect x="1239.4" y="279.8" width="8.8" height="1" fill="#2A4060"/>
<rect x="1058.3" y="301.5" width="15.4" height="3.2" fill="#1C2D43"/><rect x="1058.3" y="301.5" width="15.4" height="1" fill="#2A4060"/>
<rect x="1092.3" y="306.8" width="21.2" height="4.2" fill="#1C2D43"/><rect x="1092.3" y="306.8" width="21.2" height="1" fill="#2A4060"/>
<rect x="1128.9" y="310.1" width="16.8" height="2.6" fill="#1C2D43"/><rect x="1128.9" y="310.1" width="16.8" height="1" fill="#2A4060"/>
<rect x="1224.9" y="320.7" width="20.0" height="4.5" fill="#1C2D43"/><rect x="1224.9" y="320.7" width="20.0" height="1" fill="#2A4060"/>
<rect x="1098.1" y="295.9" width="7.7" height="4.1" fill="#1C2D43"/><rect x="1098.1" y="295.9" width="7.7" height="1" fill="#2A4060"/>
<rect x="1052.2" y="280.5" width="11.4" height="2.6" fill="#1C2D43"/><rect x="1052.2" y="280.5" width="11.4" height="1" fill="#2A4060"/>
<rect x="1006.4" y="326.8" width="15.8" height="2.9" fill="#1C2D43"/><rect x="1006.4" y="326.8" width="15.8" height="1" fill="#2A4060"/>
<rect x="1063.1" y="292.6" width="11.8" height="2.8" fill="#1C2D43"/><rect x="1063.1" y="292.6" width="11.8" height="1" fill="#2A4060"/>
<rect x="1212.2" y="334.6" width="13.5" height="3.7" fill="#1C2D43"/><rect x="1212.2" y="334.6" width="13.5" height="1" fill="#2A4060"/>
<rect x="1085.7" y="287.2" width="19.3" height="2.9" fill="#1C2D43"/><rect x="1085.7" y="287.2" width="19.3" height="1" fill="#2A4060"/>
<rect x="1005.8" y="331.8" width="14.5" height="2.9" fill="#1C2D43"/><rect x="1005.8" y="331.8" width="14.5" height="1" fill="#2A4060"/>
<rect x="1135.8" y="271.8" width="14.4" height="4.9" fill="#1C2D43"/><rect x="1135.8" y="271.8" width="14.4" height="1" fill="#2A4060"/>
<rect x="1215.8" y="315.3" width="10.2" height="3.4" fill="#1C2D43"/><rect x="1215.8" y="315.3" width="10.2" height="1" fill="#2A4060"/>
<rect x="1041.8" y="320.2" width="14.5" height="4.4" fill="#1C2D43"/><rect x="1041.8" y="320.2" width="14.5" height="1" fill="#2A4060"/>
<rect x="1082.4" y="284.5" width="19.0" height="5.0" fill="#1C2D43"/><rect x="1082.4" y="284.5" width="19.0" height="1" fill="#2A4060"/>
<rect x="1213.2" y="322.4" width="19.1" height="4.3" fill="#1C2D43"/><rect x="1213.2" y="322.4" width="19.1" height="1" fill="#2A4060"/>
<rect x="1056.7" y="303.6" width="11.7" height="2.6" fill="#1C2D43"/><rect x="1056.7" y="303.6" width="11.7" height="1" fill="#2A4060"/>
<rect x="1064.8" y="315.0" width="21.3" height="3.6" fill="#1C2D43"/><rect x="1064.8" y="315.0" width="21.3" height="1" fill="#2A4060"/>
<rect x="1234.3" y="334.2" width="21.3" height="3.4" fill="#1C2D43"/><rect x="1234.3" y="334.2" width="21.3" height="1" fill="#2A4060"/>
<rect x="1055.1" y="284.7" width="9.1" height="3.0" fill="#1C2D43"/><rect x="1055.1" y="284.7" width="9.1" height="1" fill="#2A4060"/>
<rect x="1156.0" y="328.5" width="19.4" height="3.7" fill="#1C2D43"/><rect x="1156.0" y="328.5" width="19.4" height="1" fill="#2A4060"/>
<rect x="1163.2" y="322.0" width="7.4" height="4.2" fill="#1C2D43"/><rect x="1163.2" y="322.0" width="7.4" height="1" fill="#2A4060"/>
<rect x="1227.4" y="320.8" width="18.0" height="3.7" fill="#1C2D43"/><rect x="1227.4" y="320.8" width="18.0" height="1" fill="#2A4060"/>
<rect x="1044.6" y="321.3" width="11.3" height="4.5" fill="#1C2D43"/><rect x="1044.6" y="321.3" width="11.3" height="1" fill="#2A4060"/>
<rect x="1242.9" y="295.7" width="12.4" height="4.9" fill="#1C2D43"/><rect x="1242.9" y="295.7" width="12.4" height="1" fill="#2A4060"/>
<rect x="1181.2" y="281.1" width="8.0" height="2.9" fill="#1C2D43"/><rect x="1181.2" y="281.1" width="8.0" height="1" fill="#2A4060"/>
<rect x="1226.2" y="322.4" width="8.3" height="4.6" fill="#1C2D43"/><rect x="1226.2" y="322.4" width="8.3" height="1" fill="#2A4060"/>
<rect x="1245.1" y="312.7" width="11.6" height="3.9" fill="#1C2D43"/><rect x="1245.1" y="312.7" width="11.6" height="1" fill="#2A4060"/>
<rect x="1242.7" y="312.2" width="14.4" height="4.8" fill="#1C2D43"/><rect x="1242.7" y="312.2" width="14.4" height="1" fill="#2A4060"/>
<rect x="1108.5" y="326.7" width="19.2" height="3.0" fill="#1C2D43"/><rect x="1108.5" y="326.7" width="19.2" height="1" fill="#2A4060"/>
<rect x="1063.0" y="289.0" width="9.8" height="4.0" fill="#1C2D43"/><rect x="1063.0" y="289.0" width="9.8" height="1" fill="#2A4060"/>
<rect x="1064.8" y="297.2" width="8.1" height="4.8" fill="#1C2D43"/><rect x="1064.8" y="297.2" width="8.1" height="1" fill="#2A4060"/>
<rect x="1088.4" y="299.8" width="15.3" height="4.8" fill="#1C2D43"/><rect x="1088.4" y="299.8" width="15.3" height="1" fill="#2A4060"/>
<rect x="1105.2" y="329.7" width="14.0" height="3.8" fill="#1C2D43"/><rect x="1105.2" y="329.7" width="14.0" height="1" fill="#2A4060"/>
<rect x="1130.9" y="271.2" width="13.0" height="3.0" fill="#1C2D43"/><rect x="1130.9" y="271.2" width="13.0" height="1" fill="#2A4060"/>
<rect x="1001.0" y="321.9" width="8.8" height="3.7" fill="#1C2D43"/><rect x="1001.0" y="321.9" width="8.8" height="1" fill="#2A4060"/>
<rect x="1181.3" y="306.2" width="11.2" height="3.8" fill="#1C2D43"/><rect x="1181.3" y="306.2" width="11.2" height="1" fill="#2A4060"/>
<rect x="1138.9" y="321.0" width="7.7" height="3.9" fill="#1C2D43"/><rect x="1138.9" y="321.0" width="7.7" height="1" fill="#2A4060"/>
<rect x="1062.1" y="288.0" width="18.4" height="3.8" fill="#1C2D43"/><rect x="1062.1" y="288.0" width="18.4" height="1" fill="#2A4060"/>
<rect x="1140.4" y="319.4" width="20.6" height="3.6" fill="#1C2D43"/><rect x="1140.4" y="319.4" width="20.6" height="1" fill="#2A4060"/>
<rect x="1153.1" y="302.9" width="14.2" height="4.2" fill="#1C2D43"/><rect x="1153.1" y="302.9" width="14.2" height="1" fill="#2A4060"/>
<rect x="1113.1" y="304.7" width="13.6" height="4.9" fill="#1C2D43"/><rect x="1113.1" y="304.7" width="13.6" height="1" fill="#2A4060"/>
<rect x="1174.8" y="327.0" width="21.1" height="3.1" fill="#1C2D43"/><rect x="1174.8" y="327.0" width="21.1" height="1" fill="#2A4060"/>
<rect x="1139.9" y="331.3" width="19.4" height="2.8" fill="#1C2D43"/><rect x="1139.9" y="331.3" width="19.4" height="1" fill="#2A4060"/>
<rect x="1018.3" y="313.5" width="18.5" height="4.7" fill="#1C2D43"/><rect x="1018.3" y="313.5" width="18.5" height="1" fill="#2A4060"/>
<rect x="1038.6" y="316.5" width="16.6" height="2.9" fill="#1C2D43"/><rect x="1038.6" y="316.5" width="16.6" height="1" fill="#2A4060"/>
<rect x="1220.7" y="332.9" width="9.5" height="4.9" fill="#1C2D43"/><rect x="1220.7" y="332.9" width="9.5" height="1" fill="#2A4060"/>
<rect x="1099.6" y="301.7" width="21.8" height="4.6" fill="#1C2D43"/><rect x="1099.6" y="301.7" width="21.8" height="1" fill="#2A4060"/>
<rect x="1128.9" y="292.0" width="9.1" height="3.3" fill="#1C2D43"/><rect x="1128.9" y="292.0" width="9.1" height="1" fill="#2A4060"/>
<rect x="1180.5" y="271.3" width="14.9" height="3.6" fill="#1C2D43"/><rect x="1180.5" y="271.3" width="14.9" height="1" fill="#2A4060"/>
<rect x="1156.0" y="303.3" width="7.0" height="5.0" fill="#1C2D43"/><rect x="1156.0" y="303.3" width="7.0" height="1" fill="#2A4060"/>
<polygon points="1188,357 1228,357 1230,376 1192,376" fill="#121812"/>
<circle cx="1220.0" cy="375.5" r="0.9" fill="#3F4428" opacity="0.8"/>
<circle cx="1200.1" cy="357.8" r="1.3" fill="#3F4428" opacity="0.8"/>
<circle cx="1200.3" cy="359.5" r="1.1" fill="#3F4428" opacity="0.8"/>
<circle cx="1224.6" cy="372.6" r="1.0" fill="#3F4428" opacity="0.8"/>
<circle cx="1195.7" cy="374.5" r="1.2" fill="#3F4428" opacity="0.8"/>
<circle cx="1216.6" cy="358.7" r="0.8" fill="#3F4428" opacity="0.8"/>
<circle cx="1216.2" cy="365.1" r="0.9" fill="#3F4428" opacity="0.8"/>
<circle cx="1225.7" cy="369.1" r="1.4" fill="#3F4428" opacity="0.8"/>
<circle cx="1193.2" cy="373.3" r="0.8" fill="#3F4428" opacity="0.8"/>
<circle cx="1222.8" cy="365.6" r="1.0" fill="#3F4428" opacity="0.8"/>
<circle cx="1211.0" cy="374.6" r="1.0" fill="#3F4428" opacity="0.8"/>
<circle cx="1194.9" cy="367.0" r="1.0" fill="#3F4428" opacity="0.8"/>
<circle cx="1194.2" cy="360.1" r="0.8" fill="#3F4428" opacity="0.8"/>
<circle cx="1197.7" cy="362.9" r="1.0" fill="#3F4428" opacity="0.8"/>
<circle cx="1218.9" cy="362.5" r="1.2" fill="#3F4428" opacity="0.8"/>
<circle cx="1196.8" cy="363.6" r="0.8" fill="#3F4428" opacity="0.8"/>
<circle cx="1199.5" cy="357.3" r="1.3" fill="#3F4428" opacity="0.8"/>
<circle cx="1210.9" cy="360.6" r="1.1" fill="#3F4428" opacity="0.8"/>
<circle cx="1225.5" cy="359.0" r="1.4" fill="#3F4428" opacity="0.8"/>
<circle cx="1206.4" cy="366.4" r="1.4" fill="#3F4428" opacity="0.8"/>
<circle cx="1204.9" cy="366.6" r="1.3" fill="#3F4428" opacity="0.8"/>
<circle cx="1227.3" cy="363.5" r="1.4" fill="#3F4428" opacity="0.8"/>
<circle cx="1216.9" cy="369.1" r="1.1" fill="#3F4428" opacity="0.8"/>
<circle cx="1203.2" cy="358.0" r="0.9" fill="#3F4428" opacity="0.8"/>
<circle cx="1192.7" cy="371.1" r="1.0" fill="#3F4428" opacity="0.8"/>
<circle cx="1196.2" cy="358.6" r="1.4" fill="#3F4428" opacity="0.8"/>
<circle cx="1223.1" cy="369.7" r="1.0" fill="#3F4428" opacity="0.8"/>
<circle cx="1199.2" cy="362.6" r="1.1" fill="#3F4428" opacity="0.8"/>
<circle cx="1196.0" cy="365.5" r="1.0" fill="#3F4428" opacity="0.8"/>
<circle cx="1226.5" cy="375.5" r="1.2" fill="#3F4428" opacity="0.8"/>
<circle cx="1199.3" cy="375.3" r="1.0" fill="#3F4428" opacity="0.8"/>
<circle cx="1203.6" cy="357.0" r="1.1" fill="#3F4428" opacity="0.8"/>
<circle cx="1208.0" cy="366.6" r="0.9" fill="#3F4428" opacity="0.8"/>
<circle cx="1209.2" cy="357.1" r="1.0" fill="#3F4428" opacity="0.8"/>
<circle cx="1193.4" cy="364.6" r="0.8" fill="#3F4428" opacity="0.8"/>
<circle cx="1190.9" cy="362.8" r="1.0" fill="#3F4428" opacity="0.8"/>
<circle cx="1212.3" cy="367.1" r="1.3" fill="#3F4428" opacity="0.8"/>
<circle cx="1215.0" cy="370.6" r="1.4" fill="#3F4428" opacity="0.8"/>
<circle cx="1204.8" cy="363.2" r="1.5" fill="#3F4428" opacity="0.8"/>
<circle cx="1195.7" cy="370.8" r="1.3" fill="#3F4428" opacity="0.8"/>
<circle cx="1191.7" cy="372.9" r="1.4" fill="#3F4428" opacity="0.8"/>
<circle cx="1213.8" cy="370.9" r="1.4" fill="#3F4428" opacity="0.8"/>
<circle cx="1195.3" cy="367.0" r="1.2" fill="#3F4428" opacity="0.8"/>
<circle cx="1221.7" cy="372.3" r="1.4" fill="#3F4428" opacity="0.8"/>
<circle cx="1212.2" cy="374.0" r="1.3" fill="#3F4428" opacity="0.8"/>
<circle cx="1216.3" cy="361.4" r="0.8" fill="#3F4428" opacity="0.8"/>
<circle cx="1195.1" cy="363.9" r="0.9" fill="#3F4428" opacity="0.8"/>
<circle cx="1221.8" cy="367.6" r="1.2" fill="#3F4428" opacity="0.8"/>
<circle cx="1213.8" cy="369.9" r="1.1" fill="#3F4428" opacity="0.8"/>
<circle cx="1190.1" cy="372.2" r="1.3" fill="#3F4428" opacity="0.8"/>
<circle cx="1209.1" cy="367.2" r="1.3" fill="#3F4428" opacity="0.8"/>
<circle cx="1192.5" cy="371.0" r="1.0" fill="#3F4428" opacity="0.8"/>
<circle cx="1192.8" cy="362.0" r="1.3" fill="#3F4428" opacity="0.8"/>
<circle cx="1197.8" cy="371.1" r="1.5" fill="#3F4428" opacity="0.8"/>
<circle cx="1208.8" cy="364.3" r="1.1" fill="#3F4428" opacity="0.8"/>
<circle cx="1216.0" cy="371.6" r="1.2" fill="#3F4428" opacity="0.8"/>
<circle cx="1214.4" cy="358.5" r="0.9" fill="#3F4428" opacity="0.8"/>
<circle cx="1199.6" cy="371.1" r="1.0" fill="#3F4428" opacity="0.8"/>
<circle cx="1211.6" cy="357.2" r="0.8" fill="#3F4428" opacity="0.8"/>
<circle cx="1200.2" cy="369.8" r="1.3" fill="#3F4428" opacity="0.8"/>
<circle cx="1215.7" cy="362.5" r="1.2" fill="#3F4428" opacity="0.8"/>
<circle cx="1207.7" cy="365.9" r="0.9" fill="#3F4428" opacity="0.8"/>
<circle cx="1224.0" cy="360.8" r="1.5" fill="#3F4428" opacity="0.8"/>
<circle cx="1225.6" cy="357.3" r="1.1" fill="#3F4428" opacity="0.8"/>
<circle cx="1221.2" cy="375.4" r="1.1" fill="#3F4428" opacity="0.8"/>
<circle cx="1200.2" cy="361.0" r="1.5" fill="#3F4428" opacity="0.8"/>
<circle cx="1198.0" cy="368.0" r="0.9" fill="#3F4428" opacity="0.8"/>
<circle cx="1209.9" cy="375.1" r="0.9" fill="#3F4428" opacity="0.8"/>
<circle cx="1221.2" cy="366.7" r="1.4" fill="#3F4428" opacity="0.8"/>
<circle cx="1216.7" cy="361.4" r="1.4" fill="#3F4428" opacity="0.8"/>
<circle cx="1156.7" cy="372.3" r="0.7" fill="#3F4428" opacity="0.8"/>
<circle cx="1157.0" cy="378.3" r="0.9" fill="#3F4428" opacity="0.8"/>
<circle cx="1137.7" cy="376.8" r="0.9" fill="#3F4428" opacity="0.8"/>
<circle cx="1176.2" cy="372.0" r="1.2" fill="#3F4428" opacity="0.8"/>
<circle cx="1176.2" cy="373.7" r="1.3" fill="#3F4428" opacity="0.8"/>
<circle cx="1169.2" cy="384.6" r="0.9" fill="#3F4428" opacity="0.8"/>
<circle cx="1150.5" cy="377.5" r="1.3" fill="#3F4428" opacity="0.8"/>
<circle cx="1162.4" cy="377.0" r="1.0" fill="#3F4428" opacity="0.8"/>
<circle cx="1145.1" cy="372.7" r="0.8" fill="#3F4428" opacity="0.8"/>
<circle cx="1175.9" cy="376.0" r="1.3" fill="#3F4428" opacity="0.8"/>
<circle cx="1143.7" cy="375.7" r="1.0" fill="#3F4428" opacity="0.8"/>
<circle cx="1140.4" cy="377.2" r="1.3" fill="#3F4428" opacity="0.8"/>
<circle cx="1178.6" cy="383.4" r="1.1" fill="#3F4428" opacity="0.8"/>
<circle cx="1180.2" cy="385.2" r="1.0" fill="#3F4428" opacity="0.8"/>
<circle cx="1169.6" cy="372.7" r="1.1" fill="#3F4428" opacity="0.8"/>
<circle cx="1154.8" cy="382.5" r="1.1" fill="#3F4428" opacity="0.8"/>
<circle cx="1145.7" cy="372.7" r="1.3" fill="#3F4428" opacity="0.8"/>
<circle cx="1137.0" cy="378.6" r="0.9" fill="#3F4428" opacity="0.8"/>
<circle cx="1146.4" cy="382.3" r="1.3" fill="#3F4428" opacity="0.8"/>
<circle cx="1144.3" cy="381.2" r="0.9" fill="#3F4428" opacity="0.8"/>
<circle cx="1160.7" cy="377.5" r="0.8" fill="#3F4428" opacity="0.8"/>
<circle cx="1138.9" cy="374.9" r="1.2" fill="#3F4428" opacity="0.8"/>
<circle cx="1157.3" cy="375.1" r="1.2" fill="#3F4428" opacity="0.8"/>
<circle cx="1184.8" cy="378.3" r="0.8" fill="#3F4428" opacity="0.8"/>
<circle cx="1140.6" cy="373.3" r="0.9" fill="#3F4428" opacity="0.8"/>
<circle cx="1135.0" cy="375.3" r="0.9" fill="#3F4428" opacity="0.8"/>
<circle cx="1161.3" cy="384.4" r="1.1" fill="#3F4428" opacity="0.8"/>
<circle cx="1152.7" cy="377.8" r="1.0" fill="#3F4428" opacity="0.8"/>
<circle cx="1150.7" cy="376.7" r="0.7" fill="#3F4428" opacity="0.8"/>
<circle cx="1145.3" cy="385.5" r="0.8" fill="#3F4428" opacity="0.8"/>
<circle cx="1157.7" cy="380.8" r="1.2" fill="#3F4428" opacity="0.8"/>
<circle cx="1141.9" cy="375.8" r="0.8" fill="#3F4428" opacity="0.8"/>
<circle cx="1152.0" cy="378.2" r="1.3" fill="#3F4428" opacity="0.8"/>
<circle cx="1176.7" cy="384.2" r="0.7" fill="#3F4428" opacity="0.8"/>
<circle cx="1131.8" cy="381.9" r="1.2" fill="#3F4428" opacity="0.8"/>
<circle cx="1156.0" cy="380.2" r="0.7" fill="#3F4428" opacity="0.8"/>
<circle cx="1151.5" cy="385.0" r="1.2" fill="#3F4428" opacity="0.8"/>
<circle cx="1177.1" cy="385.6" r="0.8" fill="#3F4428" opacity="0.8"/>
<circle cx="1136.0" cy="374.2" r="1.0" fill="#3F4428" opacity="0.8"/>
<circle cx="1167.5" cy="385.2" r="1.1" fill="#3F4428" opacity="0.8"/>
<circle cx="1165.6" cy="382.7" r="1.0" fill="#3F4428" opacity="0.8"/>
<circle cx="1160.3" cy="372.6" r="1.2" fill="#3F4428" opacity="0.8"/>
<circle cx="1142.8" cy="384.9" r="1.1" fill="#3F4428" opacity="0.8"/>
<circle cx="1146.7" cy="373.8" r="0.9" fill="#3F4428" opacity="0.8"/>
<circle cx="1165.0" cy="381.8" r="0.8" fill="#3F4428" opacity="0.8"/>
<circle cx="1133.9" cy="379.3" r="1.0" fill="#3F4428" opacity="0.8"/>
<circle cx="1151.3" cy="375.1" r="1.1" fill="#3F4428" opacity="0.8"/>
<circle cx="1130.6" cy="376.2" r="1.0" fill="#3F4428" opacity="0.8"/>
<circle cx="1182.7" cy="381.0" r="1.2" fill="#3F4428" opacity="0.8"/>
<circle cx="1156.1" cy="375.3" r="0.8" fill="#3F4428" opacity="0.8"/>
<circle cx="1247.0" cy="400.0" r="0.9" fill="#3A3E28" opacity="0.7"/>
<circle cx="1176.6" cy="392.9" r="1.1" fill="#3A3E28" opacity="0.7"/>
<circle cx="1206.5" cy="384.7" r="1.1" fill="#3A3E28" opacity="0.7"/>
<circle cx="1244.4" cy="383.7" r="0.7" fill="#3A3E28" opacity="0.7"/>
<circle cx="1200.4" cy="390.3" r="1.1" fill="#3A3E28" opacity="0.7"/>
<circle cx="1189.9" cy="403.1" r="1.1" fill="#3A3E28" opacity="0.7"/>
<circle cx="1212.9" cy="383.0" r="1.3" fill="#3A3E28" opacity="0.7"/>
<circle cx="1198.4" cy="403.9" r="0.8" fill="#3A3E28" opacity="0.7"/>
<circle cx="1191.6" cy="401.9" r="0.9" fill="#3A3E28" opacity="0.7"/>
<circle cx="1246.4" cy="392.9" r="0.8" fill="#3A3E28" opacity="0.7"/>
<circle cx="1191.7" cy="390.2" r="1.1" fill="#3A3E28" opacity="0.7"/>
<circle cx="1246.2" cy="381.0" r="0.9" fill="#3A3E28" opacity="0.7"/>
<circle cx="1191.0" cy="409.1" r="0.8" fill="#3A3E28" opacity="0.7"/>
<circle cx="1178.9" cy="378.0" r="0.9" fill="#3A3E28" opacity="0.7"/>
<circle cx="1242.4" cy="406.0" r="1.1" fill="#3A3E28" opacity="0.7"/>
<circle cx="1249.8" cy="407.7" r="0.9" fill="#3A3E28" opacity="0.7"/>
<circle cx="1188.9" cy="407.8" r="1.1" fill="#3A3E28" opacity="0.7"/>
<circle cx="1177.4" cy="398.6" r="0.9" fill="#3A3E28" opacity="0.7"/>
<circle cx="1203.0" cy="387.3" r="0.8" fill="#3A3E28" opacity="0.7"/>
<circle cx="1175.2" cy="385.5" r="0.9" fill="#3A3E28" opacity="0.7"/>
<circle cx="1246.7" cy="380.2" r="1.3" fill="#3A3E28" opacity="0.7"/>
<circle cx="1190.6" cy="388.1" r="1.2" fill="#3A3E28" opacity="0.7"/>
<circle cx="1236.7" cy="390.7" r="0.7" fill="#3A3E28" opacity="0.7"/>
<circle cx="1210.5" cy="388.7" r="1.3" fill="#3A3E28" opacity="0.7"/>
<circle cx="1189.5" cy="388.4" r="1.2" fill="#3A3E28" opacity="0.7"/>
<circle cx="1177.3" cy="390.0" r="1.2" fill="#3A3E28" opacity="0.7"/>
<circle cx="1232.5" cy="377.4" r="0.7" fill="#3A3E28" opacity="0.7"/>
<circle cx="1179.7" cy="407.3" r="0.9" fill="#3A3E28" opacity="0.7"/>
<circle cx="1231.0" cy="406.6" r="0.9" fill="#3A3E28" opacity="0.7"/>
<circle cx="1195.4" cy="408.6" r="1.1" fill="#3A3E28" opacity="0.7"/>
<circle cx="1194.7" cy="400.4" r="0.9" fill="#3A3E28" opacity="0.7"/>
<circle cx="1195.7" cy="376.1" r="1.2" fill="#3A3E28" opacity="0.7"/>
<circle cx="1243.7" cy="397.6" r="1.3" fill="#3A3E28" opacity="0.7"/>
<circle cx="1176.8" cy="384.0" r="1.0" fill="#3A3E28" opacity="0.7"/>
<circle cx="1246.8" cy="408.4" r="0.9" fill="#3A3E28" opacity="0.7"/>
<circle cx="1193.8" cy="390.6" r="1.0" fill="#3A3E28" opacity="0.7"/>
<circle cx="1244.6" cy="382.2" r="1.2" fill="#3A3E28" opacity="0.7"/>
<circle cx="1230.4" cy="404.0" r="1.2" fill="#3A3E28" opacity="0.7"/>
<circle cx="1220.5" cy="387.1" r="0.9" fill="#3A3E28" opacity="0.7"/>
<circle cx="1202.1" cy="402.6" r="0.7" fill="#3A3E28" opacity="0.7"/>
<path d="M1040,371.7 L1049.3,366.1 L1067.8,363.4 L1079,368 L1073.4,379.1 L1054.8,381 L1040,377.3Z" fill="#17385F"/>
<polygon points="985,321.5 1050,330 1059.2,340 1059.2,349.8 1000,345 985,342" fill="url(#bgrid)" opacity="0.55"/>
<polygon points="985,321.5 1050,330 1059.2,340 1059.2,349.8 1000,345 985,342" fill="none" stroke="#4D8AD0" stroke-width="0.8" opacity="0.8"/>
<polygon points="1129.8,334.2 1208.9,341 1221.3,347.2 1221.3,357 1186.7,357 1186.7,369.5 1144.6,369.5 1144.6,357 1129.8,355.9" fill="url(#bgrid2)"/>
<polygon points="1228.7,342.3 1252.2,344.7 1255.9,371.9 1231.2,370.7" fill="url(#bgrid3)"/>
<polygon points="1129.8,334.2 1208.9,341 1221.3,347.2 1221.3,357 1186.7,357 1186.7,369.5 1144.6,369.5 1144.6,357 1129.8,355.9" fill="none" stroke="#5AA0F0" stroke-width="0.6" opacity="0.7"/>
<rect x="1146" y="351" width="40" height="1.2" fill="#0E2448" opacity="0.7"/>
<path d="M1027.4,265 L985,310.9" fill="none" stroke="#587C92" stroke-width="1.0" stroke-linejoin="round" opacity="0.85"/>
<path d="M1078.6,271.2 L1060.9,284.4 L1043.3,297.7 L1009.7,323.3" fill="none" stroke="#587C92" stroke-width="1.4" stroke-linejoin="round" opacity="0.85"/>
<path d="M1078.6,271.2 L1145,275.6" fill="none" stroke="#587C92" stroke-width="1.3" stroke-linejoin="round" opacity="0.85"/>
<path d="M1059.2,288.8 L1140.4,294.1" fill="none" stroke="#587C92" stroke-width="1.3" stroke-linejoin="round" opacity="0.85"/>
<path d="M1157.7,265 L1144,291.5 L1108.6,365 L1099.4,384.7 L1097.5,396.8 L1118,414.4 L1158.8,424.6 L1200,413.5 L1260,392" fill="none" stroke="#587C92" stroke-width="1.8" stroke-linejoin="round" opacity="0.85"/>
<path d="M1062.7,323.3 L1068,318.9 L1128,322.4" fill="none" stroke="#587C92" stroke-width="1.3" stroke-linejoin="round" opacity="0.85"/>
<path d="M1038,325.9 L1122.7,334.8" fill="none" stroke="#587C92" stroke-width="1.3" stroke-linejoin="round" opacity="0.85"/>
<path d="M1059.2,341 L1117.5,348" fill="none" stroke="#587C92" stroke-width="1.3" stroke-linejoin="round" opacity="0.85"/>
<path d="M985,346.2 L1055.6,352.4 L1062.7,342.7" fill="none" stroke="#587C92" stroke-width="1.4" stroke-linejoin="round" opacity="0.85"/>
<path d="M1094.5,304.7 L1145,307.4" fill="none" stroke="#587C92" stroke-width="1.2" stroke-linejoin="round" opacity="0.85"/>
<path d="M1160.3,268.5 L1157.7,276.5 L1189.4,297.7" fill="none" stroke="#587C92" stroke-width="1.3" stroke-linejoin="round" opacity="0.85"/>
<path d="M1140,295 L1242.4,300.3" fill="none" stroke="#587C92" stroke-width="1.3" stroke-linejoin="round" opacity="0.85"/>
<path d="M1140,308.3 L1246,315.3" fill="none" stroke="#587C92" stroke-width="1.3" stroke-linejoin="round" opacity="0.85"/>
<path d="M1193,312.7 L1189.4,333.9" fill="none" stroke="#587C92" stroke-width="1.5" stroke-linejoin="round" opacity="0.85"/>
<path d="M1253,288 L1240.7,296.8 L1256.6,356.8 L1258,372" fill="none" stroke="#587C92" stroke-width="1.5" stroke-linejoin="round" opacity="0.85"/>
<path d="M1100.3,397.7 L1144,404.2 L1140.2,420" fill="none" stroke="#587C92" stroke-width="1.8" stroke-linejoin="round" opacity="0.85"/>
<path d="M1158.8,425.5 L1173.6,460" fill="none" stroke="#587C92" stroke-width="1.8" stroke-linejoin="round" opacity="0.85"/>
<path d="M1166.2,425.5 L1183,460" fill="none" stroke="#587C92" stroke-width="1.8" stroke-linejoin="round" opacity="0.85"/>
<path d="M1077.1,426.5 L1151.4,442.2 L1153.2,453.4 L1090.1,446.9 L1097.5,431.1" fill="none" stroke="#587C92" stroke-width="1.8" stroke-linejoin="round" opacity="0.85"/>
<path d="M1093.8,439 L1151.5,447" fill="none" stroke="#587C92" stroke-width="1.6" stroke-linejoin="round" opacity="0.85"/>
<path d="M1258,420 L1188.5,440.4 L1194,460" fill="none" stroke="#587C92" stroke-width="1.8" stroke-linejoin="round" opacity="0.85"/>
<path d="M898,317.2 L977.8,315.3 M1033.5,258.7 L925.8,358.9" stroke="#2A3E50" stroke-width="0.7" fill="none"/>
<rect x="1015" y="445" width="6" height="14" fill="#2A3A4C" transform="rotate(20 1018 452)"/>
<rect x="958" y="385" width="10" height="3" fill="#2A3444"/><circle cx="953" cy="391" r="2.5" fill="#2A3444"/><circle cx="959" cy="392" r="2.5" fill="#2A3444"/>
<circle cx="989" cy="334" r="2.6" fill="#F7A040" opacity="0.35" filter="url(#glow)"/><circle cx="989" cy="334" r="1.1" fill="#FFB050"/>
<circle cx="991" cy="338" r="2.6" fill="#F7A040" opacity="0.35" filter="url(#glow)"/><circle cx="991" cy="338" r="1.1" fill="#FFB050"/>
<circle cx="1011" cy="336" r="2.6" fill="#F7A040" opacity="0.35" filter="url(#glow)"/><circle cx="1011" cy="336" r="1.1" fill="#FFB050"/>
<circle cx="1019" cy="335" r="2.6" fill="#F7A040" opacity="0.35" filter="url(#glow)"/><circle cx="1019" cy="335" r="1.1" fill="#FFB050"/>
<circle cx="1045" cy="337" r="2.6" fill="#F7A040" opacity="0.35" filter="url(#glow)"/><circle cx="1045" cy="337" r="1.1" fill="#FFB050"/>
<circle cx="1052" cy="342" r="2.6" fill="#F7A040" opacity="0.35" filter="url(#glow)"/><circle cx="1052" cy="342" r="1.1" fill="#FFB050"/>
<circle cx="1193.9" cy="334.8" r="2.6" fill="#F7A040" opacity="0.35" filter="url(#glow)"/><circle cx="1193.9" cy="334.8" r="1.1" fill="#FFB050"/>
<circle cx="1200" cy="335.6" r="2.6" fill="#F7A040" opacity="0.35" filter="url(#glow)"/><circle cx="1200" cy="335.6" r="1.1" fill="#FFB050"/>
<circle cx="1187.7" cy="338.3" r="2.6" fill="#F7A040" opacity="0.35" filter="url(#glow)"/><circle cx="1187.7" cy="338.3" r="1.1" fill="#FFB050"/>
<circle cx="1193" cy="340" r="2.6" fill="#F7A040" opacity="0.35" filter="url(#glow)"/><circle cx="1193" cy="340" r="1.1" fill="#FFB050"/>
<circle cx="1201.8" cy="338.8" r="2.6" fill="#F7A040" opacity="0.35" filter="url(#glow)"/><circle cx="1201.8" cy="338.8" r="1.1" fill="#FFB050"/>
<circle cx="1181.5" cy="345.4" r="2.6" fill="#F7A040" opacity="0.35" filter="url(#glow)"/><circle cx="1181.5" cy="345.4" r="1.1" fill="#FFB050"/>
<circle cx="1129" cy="357" r="1.6" fill="#E0F0FF" opacity="0.6" filter="url(#glow)"/>
<circle cx="1188" cy="373" r="1.6" fill="#E0F0FF" opacity="0.6" filter="url(#glow)"/>
<circle cx="1248" cy="381" r="1.6" fill="#E0F0FF" opacity="0.6" filter="url(#glow)"/>
<circle cx="1132" cy="350" r="1.6" fill="#E0F0FF" opacity="0.6" filter="url(#glow)"/>
<rect x="900" y="258" width="444" height="10.5" fill="#0B1524"/>
<line x1="900" y1="268.6" x2="1344" y2="268.6" stroke="#1C3350" stroke-width="0.8"/>
<path d="M904,265.5 Q905,260 912,260 L917,260.5 Q910,262 908,266Z" fill="#e8e8e8"/>
<text x="909" y="265" font-size="4" font-family="Liberation Sans" font-weight="bold" fill="#eee">犀人计算</text>
<text x="931" y="265" font-size="3.6" font-family="Liberation Sans" fill="#c8ccd2">智能安全生产管控平台</text>
<rect x="1046" y="261.3" width="3.2" height="3.2" fill="none" stroke="#3F7FE0" stroke-width="0.7"/><text x="1051" y="264.6" font-size="3.6" font-family="Liberation Sans" fill="#3F7FE0">首页</text>
<rect x="1071" y="261.3" width="3.2" height="3.2" fill="none" stroke="#8F9CA9" stroke-width="0.7"/><text x="1076" y="264.6" font-size="3.6" font-family="Liberation Sans" fill="#8F9CA9">设备</text>
<rect x="1097" y="261.3" width="3.2" height="3.2" fill="none" stroke="#8F9CA9" stroke-width="0.7"/><text x="1102" y="264.6" font-size="3.6" font-family="Liberation Sans" fill="#8F9CA9">视频</text>
<rect x="1121" y="261.3" width="3.2" height="3.2" fill="none" stroke="#8F9CA9" stroke-width="0.7"/><text x="1126" y="264.6" font-size="3.6" font-family="Liberation Sans" fill="#8F9CA9">报警</text>
<rect x="1146" y="261.3" width="3.2" height="3.2" fill="none" stroke="#8F9CA9" stroke-width="0.7"/><text x="1151" y="264.6" font-size="3.6" font-family="Liberation Sans" fill="#8F9CA9">分析</text>
<rect x="1171" y="261.3" width="3.2" height="3.2" fill="none" stroke="#8F9CA9" stroke-width="0.7"/><text x="1176" y="264.6" font-size="3.6" font-family="Liberation Sans" fill="#8F9CA9">系统</text>
<rect x="1271" y="261" width="9" height="4.6" rx="2.3" fill="#3a4552"/><circle cx="1273.5" cy="263.3" r="2" fill="#fff"/>
<circle cx="1289.5" cy="263" r="1.5" fill="none" stroke="#8a95a0" stroke-width="0.6"/>
<circle cx="1300.5" cy="263" r="1.5" fill="none" stroke="#8a95a0" stroke-width="0.6"/>
<circle cx="1311.5" cy="263" r="1.5" fill="none" stroke="#8a95a0" stroke-width="0.6"/>
<circle cx="1322.5" cy="263" r="1.5" fill="none" stroke="#8a95a0" stroke-width="0.6"/>
<circle cx="1336" cy="263" r="3.6" fill="#5c6570"/>
<rect x="905.4" y="275.4" width="81.30000000000007" height="7.400000000000034" fill="url(#ph)" opacity="0.85"/>
<path d="M906.4,282.8 L908.4,275.4 M908.6,282.8 L910.6,275.4" stroke="#3A7BC8" stroke-width="0.9"/>
<text x="913.4" y="280.6" font-size="4.2" font-family="Liberation Sans" font-weight="bold" fill="#dfe4ea">场景在线评分</text>
<circle cx="974.7" cy="279.1" r="1.1" fill="#F5A040"/><rect x="976.7" y="278.5" width="6" height="1.2" fill="#8a7060"/>
<rect x="990.8" y="275.4" width="264.60000000000014" height="7.400000000000034" fill="url(#ph)" opacity="0.85"/>
<path d="M991.8,282.8 L993.8,275.4 M994.0,282.8 L996.0,275.4" stroke="#3A7BC8" stroke-width="0.9"/>
<text x="998.8" y="280.6" font-size="4.2" font-family="Liberation Sans" font-weight="bold" fill="#dfe4ea">视频中心</text>
<circle cx="1243.4" cy="279.1" r="1.1" fill="#F5A040"/><rect x="1245.4" y="278.5" width="6" height="1.2" fill="#8a7060"/>
<polygon points="1019,278 1022,278 1020.5,280" fill="#F5A040"/>
<rect x="1260" y="275.4" width="81.70000000000005" height="7.400000000000034" fill="url(#ph)" opacity="0.85"/>
<path d="M1261,282.8 L1263,275.4 M1263.2,282.8 L1265.2,275.4" stroke="#3A7BC8" stroke-width="0.9"/>
<text x="1268" y="280.6" font-size="4.2" font-family="Liberation Sans" font-weight="bold" fill="#dfe4ea">告警中心</text>
<circle cx="1329.7" cy="279.1" r="1.1" fill="#F5A040"/><rect x="1331.7" y="278.5" width="6" height="1.2" fill="#8a7060"/>
<rect x="905" y="373.9" width="82" height="7.600000000000023" fill="url(#ph)" opacity="0.85"/>
<path d="M906,381.5 L908,373.9 M908.2,381.5 L910.2,373.9" stroke="#3A7BC8" stroke-width="0.9"/>
<text x="913" y="379.2" font-size="4.2" font-family="Liberation Sans" font-weight="bold" fill="#dfe4ea">今日告警统计</text>
<circle cx="975" cy="377.7" r="1.1" fill="#F5A040"/><rect x="977" y="377.09999999999997" width="6" height="1.2" fill="#8a7060"/>
<rect x="905" y="424.6" width="82" height="7.899999999999977" fill="url(#ph)" opacity="0.85"/>
<path d="M906,432.5 L908,424.6 M908.2,432.5 L910.2,424.6" stroke="#3A7BC8" stroke-width="0.9"/>
<text x="913" y="430.05" font-size="4.2" font-family="Liberation Sans" font-weight="bold" fill="#dfe4ea">设备统计</text>
<circle cx="975" cy="428.55" r="1.1" fill="#F5A040"/><rect x="977" y="427.95" width="6" height="1.2" fill="#8a7060"/>
<circle cx="945.3" cy="306" r="11" fill="url(#glb)"/>
<ellipse cx="944" cy="304" rx="17" ry="6" fill="none" stroke="#3A6090" stroke-width="0.8" transform="rotate(22 944 304)"/>
<circle cx="947" cy="307" r="15.5" fill="none" stroke="#24406A" stroke-width="0.8"/>
<rect x="905" y="332" width="37" height="7.4" fill="#0F1E36"/><rect x="908" y="335" width="12" height="1.4" fill="#4F80C0" opacity="0.8"/><rect x="936" y="334.5" width="3" height="2" fill="#3CB060"/>
<rect x="946" y="332" width="40" height="7.4" fill="#0F1E36"/><rect x="949" y="335" width="14" height="1.4" fill="#4F80C0" opacity="0.8"/><rect x="980" y="334.5" width="3" height="2" fill="#3CB060"/>
<rect x="905" y="343.7" width="37" height="7.3" fill="#0F1E36"/><rect x="908" y="346.7" width="12" height="1.4" fill="#4F80C0" opacity="0.8"/><rect x="936" y="346.2" width="3" height="2" fill="#3CB060"/>
<rect x="946" y="343.7" width="40" height="7.3" fill="#0F1E36"/><rect x="949" y="346.7" width="14" height="1.4" fill="#4F80C0" opacity="0.8"/><rect x="980" y="346.2" width="3" height="2" fill="#3CB060"/>
<rect x="905" y="355.2" width="37" height="7.0" fill="#0F1E36"/><rect x="908" y="358.2" width="12" height="1.4" fill="#4F80C0" opacity="0.8"/><rect x="936" y="357.7" width="3" height="2" fill="#3CB060"/>
<rect x="905" y="385.2" width="37" height="8.6" fill="#0F1E36"/><rect x="908" y="388.7" width="12" height="1.4" fill="#4F80C0" opacity="0.8"/><rect x="937" y="388.2" width="1.5" height="2" fill="#D04040"/>
<rect x="946" y="385.2" width="41" height="8.6" fill="#0F1E36"/><rect x="949" y="388.7" width="14" height="1.4" fill="#4F80C0" opacity="0.8"/><rect x="982" y="388.2" width="1.5" height="2" fill="#D04040"/>
<rect x="905" y="396.6" width="37" height="8.4" fill="#0F1E36"/><rect x="908" y="400.1" width="12" height="1.4" fill="#4F80C0" opacity="0.8"/><rect x="937" y="399.6" width="1.5" height="2" fill="#D04040"/>
<rect x="946" y="396.6" width="41" height="8.4" fill="#0F1E36"/><rect x="949" y="400.1" width="14" height="1.4" fill="#4F80C0" opacity="0.8"/><rect x="982" y="399.6" width="1.5" height="2" fill="#D04040"/>
<rect x="905" y="408" width="37" height="8.4" fill="#0F1E36"/><rect x="908" y="411.5" width="12" height="1.4" fill="#4F80C0" opacity="0.8"/><rect x="937" y="411" width="1.5" height="2" fill="#D04040"/>
<rect x="946" y="408" width="41" height="8.4" fill="#0F1E36"/><rect x="949" y="411.5" width="14" height="1.4" fill="#4F80C0" opacity="0.8"/><rect x="982" y="411" width="1.5" height="2" fill="#D04040"/>
<circle cx="911.6" cy="446" r="6.2" fill="#0F2A50" stroke="#2A5A90" stroke-width="1"/><circle cx="911.6" cy="446" r="2.6" fill="#5AA0E8"/>
<rect x="931" y="441" width="4" height="1.2" fill="#888"/><text x="933" y="451.5" font-size="6" font-family="Liberation Sans" fill="#4AA8F0" text-anchor="middle" font-weight="bold">15</text>
<rect x="947.7" y="441" width="4" height="1.2" fill="#888"/><text x="949.7" y="451.5" font-size="6" font-family="Liberation Sans" fill="#4AA8F0" text-anchor="middle" font-weight="bold">9</text>
<rect x="964.6" y="441" width="4" height="1.2" fill="#888"/><text x="966.6" y="451.5" font-size="6" font-family="Liberation Sans" fill="#9aa" text-anchor="middle" font-weight="bold">6</text>
<rect x="981" y="441" width="4" height="1.2" fill="#888"/><text x="983" y="451.5" font-size="6" font-family="Liberation Sans" fill="#E05040" text-anchor="middle" font-weight="bold">0</text>
<circle cx="911.6" cy="461" r="6" fill="none" stroke="#2A5A90" stroke-width="1"/>
<rect x="1258" y="284" width="86" height="175" fill="#070C13" opacity="0.8"/>
<rect x="1260" y="400.4" width="81" height="7.600000000000023" fill="url(#ph)" opacity="0.85"/>
<path d="M1261,408 L1263,400.4 M1263.2,408 L1265.2,400.4" stroke="#3A7BC8" stroke-width="0.9"/>
<text x="1268" y="405.7" font-size="4.2" font-family="Liberation Sans" font-weight="bold" fill="#dfe4ea">告警类型</text>
<circle cx="1329" cy="404.2" r="1.1" fill="#F5A040"/><rect x="1331" y="403.59999999999997" width="6" height="1.2" fill="#8a7060"/>
<rect x="1263" y="292" width="6" height="2" fill="#888"/><rect x="1274" y="290.8" width="1.6" height="3.4" fill="#4A90E0"/><rect x="1282" y="292" width="6" height="2" fill="#888"/><rect x="1292" y="290.8" width="1.6" height="3.4" fill="#40C060"/>
<rect x="1260" y="298.5" width="12" height="6" fill="#16263C" stroke="#3A6EA8" stroke-width="0.5"/><rect x="1273" y="298.5" width="12" height="6" fill="#16263C"/>
<rect x="1316" y="298.5" width="9" height="6" fill="#16263C" stroke="#3A6EA8" stroke-width="0.5"/><rect x="1325" y="298.5" width="17" height="6" fill="#16263C"/>
<polygon points="1262,312 1300,312 1312,345 1270,345" fill="#111A24" opacity="0.5"/>
<line x1="1266" y1="311.0" x2="1338" y2="311.0" stroke="#1A2636" stroke-width="0.5"/>
<line x1="1266" y1="317.5" x2="1338" y2="317.5" stroke="#1A2636" stroke-width="0.5"/>
<line x1="1266" y1="324.0" x2="1338" y2="324.0" stroke="#1A2636" stroke-width="0.5"/>
<line x1="1266" y1="330.5" x2="1338" y2="330.5" stroke="#1A2636" stroke-width="0.5"/>
<line x1="1266" y1="337.0" x2="1338" y2="337.0" stroke="#1A2636" stroke-width="0.5"/>
<line x1="1266" y1="343.5" x2="1338" y2="343.5" stroke="#1A2636" stroke-width="0.5"/>
<line x1="1266" y1="346.6" x2="1337" y2="346.6" stroke="#3A8060" stroke-width="1.1"/>
<rect x="1265" y="349" width="72" height="1.5" fill="#5a6470" opacity="0.6"/>
<rect x="1260" y="352.5" width="3" height="1.5" fill="#3A70C0"/><rect x="1275" y="352.5" width="8" height="1.5" fill="#3A70C0"/><rect x="1295" y="352.5" width="8" height="1.5" fill="#3A70C0"/><rect x="1336" y="352.5" width="4" height="1.5" fill="#3A70C0"/>
<rect x="1259" y="357.0" width="84" height="10.5" fill="#0E1A2C"/>
<rect x="1261" y="361.0" width="5" height="1.5" fill="#3A70C0"/><rect x="1283" y="358.5" width="8" height="1.5" fill="#aab"/><rect x="1283" y="363.0" width="5" height="1.5" fill="#aab"/><rect x="1302" y="358.5" width="12" height="1.5" fill="#aab"/><rect x="1302" y="363.0" width="8" height="1.5" fill="#aab"/><rect x="1331" y="358.5" width="4" height="1.5" fill="#E05A40"/><rect x="1331" y="363.0" width="2" height="1.5" fill="#E05A40"/>
<rect x="1259" y="368.5" width="84" height="10.5" fill="#0E1A2C"/>
<rect x="1261" y="372.5" width="5" height="1.5" fill="#3A70C0"/><rect x="1283" y="370.0" width="8" height="1.5" fill="#aab"/><rect x="1283" y="374.5" width="5" height="1.5" fill="#aab"/><rect x="1302" y="370.0" width="12" height="1.5" fill="#aab"/><rect x="1302" y="374.5" width="8" height="1.5" fill="#aab"/><rect x="1331" y="370.0" width="4" height="1.5" fill="#E05A40"/><rect x="1331" y="374.5" width="2" height="1.5" fill="#E05A40"/>
<rect x="1259" y="380.0" width="84" height="10.5" fill="#0E1A2C"/>
<rect x="1261" y="384.0" width="5" height="1.5" fill="#3A70C0"/><rect x="1283" y="381.5" width="8" height="1.5" fill="#aab"/><rect x="1283" y="386.0" width="5" height="1.5" fill="#aab"/><rect x="1302" y="381.5" width="12" height="1.5" fill="#aab"/><rect x="1302" y="386.0" width="8" height="1.5" fill="#aab"/><rect x="1331" y="381.5" width="4" height="1.5" fill="#E05A40"/><rect x="1331" y="386.0" width="2" height="1.5" fill="#E05A40"/>
<rect x="1259" y="410.0" width="84" height="12.5" fill="#0E1A2C"/>
<text x="1261" y="415.0" font-size="3.8" font-family="Liberation Sans" fill="#d8dde3">1st 围区闯入</text>
<line x1="1262" y1="419.5" x2="1330" y2="419.5" stroke="#2A3444" stroke-width="0.8"/>
<line x1="1262" y1="419.5" x2="1303" y2="419.5" stroke="#D03030" stroke-width="1.2"/>
<rect x="1334" y="418.5" width="6" height="1.5" fill="#999"/>
<rect x="1259" y="424.5" width="84" height="12.5" fill="#0E1A2C"/>
<text x="1261" y="429.5" font-size="3.8" font-family="Liberation Sans" fill="#d8dde3">2nd 工服告警</text>
<line x1="1262" y1="434.0" x2="1330" y2="434.0" stroke="#2A3444" stroke-width="0.8"/>
<line x1="1262" y1="434.0" x2="1274" y2="434.0" stroke="#D05A30" stroke-width="1.2"/>
<rect x="1334" y="433.0" width="6" height="1.5" fill="#999"/>
<rect x="1259" y="439.0" width="84" height="12.5" fill="#0E1A2C"/>
<text x="1261" y="444.0" font-size="3.8" font-family="Liberation Sans" fill="#d8dde3">3rd 安全帽告警</text>
<line x1="1262" y1="448.5" x2="1330" y2="448.5" stroke="#2A3444" stroke-width="0.8"/>
<line x1="1262" y1="448.5" x2="1267" y2="448.5" stroke="#E0A030" stroke-width="1.2"/>
<rect x="1334" y="447.5" width="6" height="1.5" fill="#999"/>
<rect x="1259" y="453.5" width="84" height="12.5" fill="#0E1A2C"/>
<text x="1261" y="458.5" font-size="3.8" font-family="Liberation Sans" fill="#d8dde3">4th 烟雾告警</text>
<line x1="1262" y1="463.0" x2="1330" y2="463.0" stroke="#2A3444" stroke-width="0.8"/>
<rect x="1334" y="462.0" width="6" height="1.5" fill="#999"/>
</svg><!--/DASH-->
<div class="a" style="left:897.8px;top:221px;width:158px;height:29px;background:#F5894A;border-radius:4px;box-shadow:0 1px 3px rgba(0,0,0,0.12)"></div>
<div class="a c wt" style="left:897.8px;top:222.5px;width:158px;height:29px">实时感知工厂运行态势<br>和安全态势</div>
<div class="a" style="left:1065.5px;top:220px;width:278.5px;height:29.5px;border:2px solid #FBC8A8;border-radius:5px;box-shadow:0 0 3px #FCD9C4"></div>
<div class="a c gb" style="left:1078px;top:229px;width:78px;height:17.5px">人工智能</div>
<div class="a c gb" style="left:1168.5px;top:229px;width:79px;height:17.5px">云计算</div>
<div class="a c gb" style="left:1260px;top:229px;width:78px;height:17.5px">边缘计算</div>

<div class="a" style="left:930px;top:500px;width:380px;height:30px;border-radius:50%;background:rgba(0,0,0,0.07);filter:blur(14px)"></div>
<div class="a" style="left:897.8px;top:476.7px;width:158px;height:29px;background:#F5894A;border-radius:4px;box-shadow:0 2px 4px rgba(0,0,0,0.12)"></div>
<div class="a c wt" style="left:897.8px;top:477.7px;width:158px;height:29px">对终端采集的预警和报警<br>数据进行集中汇聚与展现</div>
<div class="a" style="left:1061px;top:475.5px;width:283px;height:32px;border:2px solid #FBC8A8;border-radius:5px;box-shadow:0 0 3px #FCD9C4"></div>
<div class="a c gb" style="left:1070px;top:484.5px;width:97px;height:17.5px">安全流程管理</div>
<div class="a c gb" style="left:1166px;top:484.5px;width:93px;height:17.5px">可视安全监管</div>
<div class="a c gb" style="left:1261px;top:484.5px;width:84.5px;height:17.5px">监管自动化</div>

<div class="a" style="left:1354.5px;top:220px;width:125px;height:287px;border:2px solid #FBC8A8;border-radius:6px;box-shadow:0 0 3px #FCD9C4"></div>
<div class="a c rb" style="left:1364px;top:229px;width:105.5px;height:26.5px;line-height:14px;padding-top:3px">可视化大屏<br>综合展示</div>
<div class="a c rb" style="left:1364px;top:262.8px;width:105.5px;height:28px">媒体存储汇聚点</div>
<div class="a c rb" style="left:1364px;top:298.4px;width:105.5px;height:27.6px">监控中心管理</div>
<div class="a c rb" style="left:1364px;top:332px;width:105.5px;height:29.3px">管理用户信息</div>
<div class="a c rb" style="left:1364px;top:368.7px;width:105.5px;height:26.1px;line-height:12px">边缘计算盒子<br>配置及禁区定义</div>
<div class="a c rb" style="left:1364px;top:402.6px;width:105.5px;height:28.3px;line-height:13px">展示监控画面<br>和记录</div>
<div class="a c rb" style="left:1364px;top:438.3px;width:105.5px;height:27.3px">推送违规信息</div>
<div class="a c rb" style="left:1364px;top:472px;width:105.5px;height:28.4px">数据统计分析</div>
</body></html>
